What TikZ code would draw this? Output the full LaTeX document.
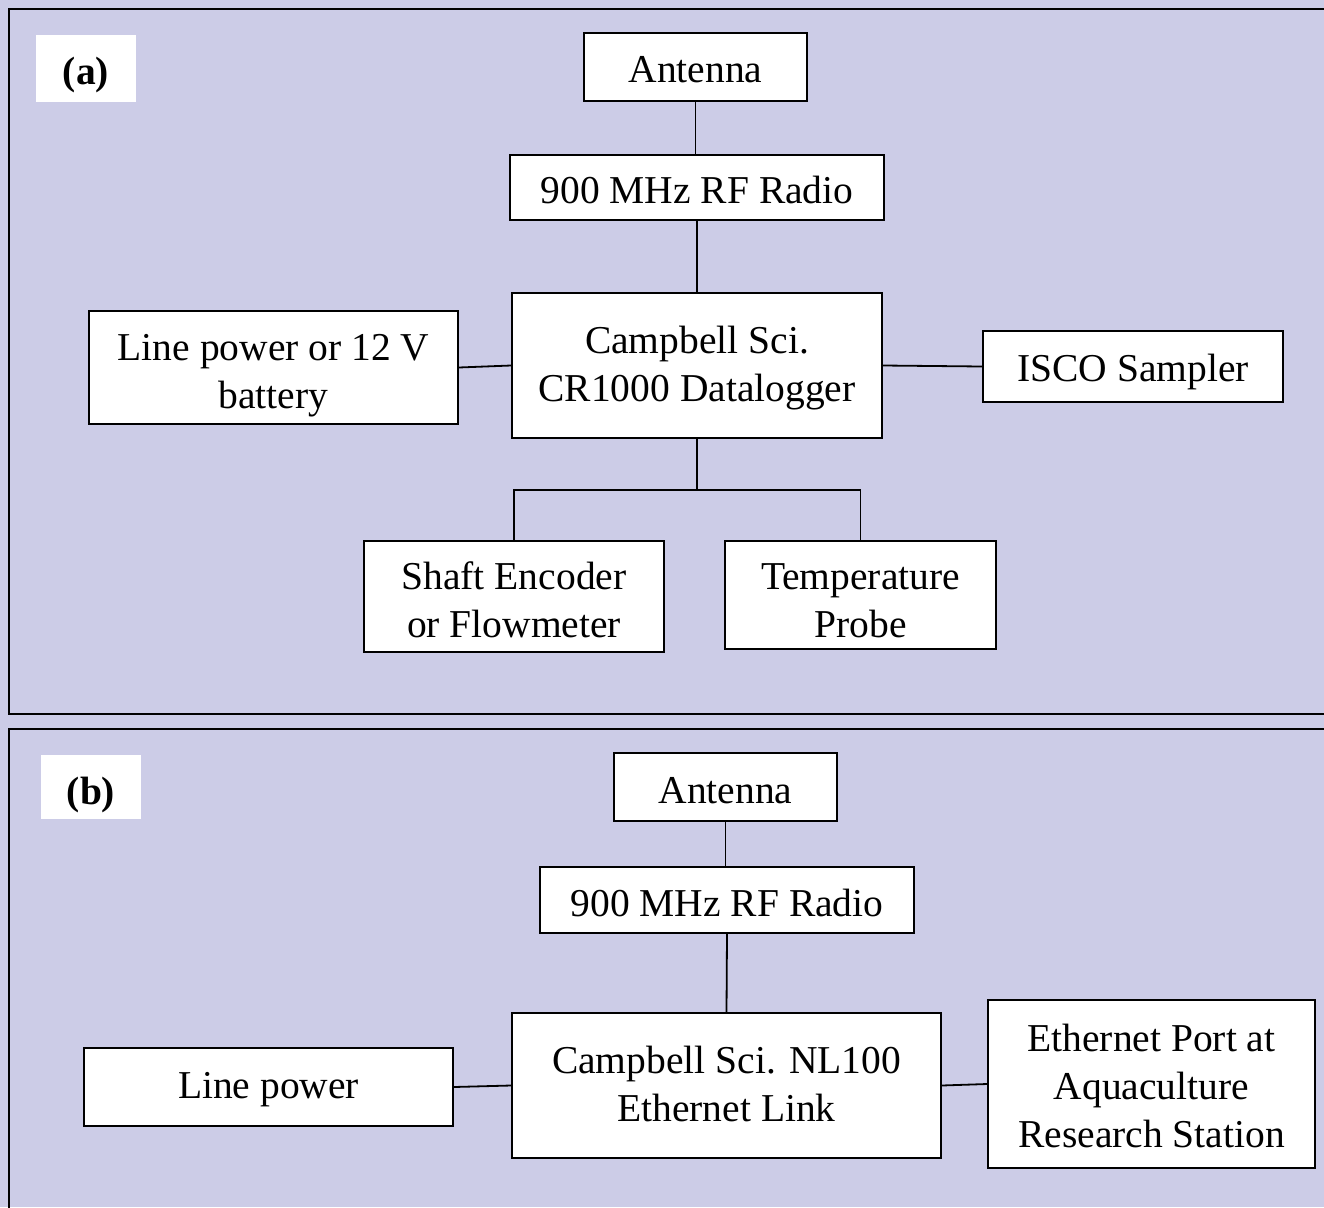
\documentclass[tikz,border=0pt]{standalone}
\usepackage{fontspec}
\setmainfont{Liberation Serif}
\definecolor{panelbg}{RGB}{204,204,231}
\newcommand\bxt[2]{\raisebox{-#1pt}[\height][\depth]{\begin{tabular}{@{}c@{}}#2\end{tabular}}}
\begin{document}
\begin{tikzpicture}[x=1pt,y=-1pt,
  every node/.style={font=\fontsize{39.5}{48}\selectfont},
  box/.style={draw=black,line width=1.8pt,fill=white,inner sep=0pt},
  lbl/.style={fill=white,inner sep=0pt,font=\fontsize{39.5}{48}\selectfont\bfseries},
  link/.style={draw=black,line width=1.8pt},
  panel/.style={draw=black,line width=2.2pt}]
\useasboundingbox (0,0) rectangle (1324,1207);
\fill[panelbg] (0,0) rectangle (1324,1207);
\draw[panel] (9,9) rectangle (1340,714);
\draw[panel] (9,729) rectangle (1340,1230);
% panel (a)
\node[lbl,minimum width=100pt,minimum height=67pt] (la) at (86,68.5) {\bxt{6.9}{(a)}};
\node[box,minimum width=223pt,minimum height=68pt] (ant1) at (695.5,67) {\bxt{6.4}{Antenna}};
\node[box,minimum width=374pt,minimum height=65pt] (rad1) at (697,187.5) {\bxt{5.9}{900 MHz RF Radio}};
\node[box,minimum width=370pt,minimum height=145pt] (dl) at (697,365.5) {\bxt{2}{Campbell Sci.\\CR1000 Datalogger}};
\node[box,minimum width=369pt,minimum height=113pt] (pw1) at (273.5,367.5) {\bxt{6.9}{Line power or 12 V\\battery}};
\node[box,minimum width=300pt,minimum height=71pt] (isco) at (1133,366.5) {\bxt{4.9}{ISCO Sampler}};
\node[box,minimum width=300pt,minimum height=111pt] (shaft) at (514,596.5) {\bxt{6.9}{Shaft Encoder\\or Flowmeter}};
\node[box,minimum width=271pt,minimum height=108pt] (temp) at (860.5,595) {\bxt{8.4}{Temperature\\Probe}};
\coordinate (j1) at (697,490);
\draw[link] (ant1.south) -- (rad1.north -| ant1.south);
\draw[link] (rad1.south) -- (dl.north);
\draw[link] (pw1.east) -- (dl.west);
\draw[link] (dl.east) -- (isco.west);
\draw[link] (dl.south) -- (j1);
\draw[link] (shaft.north) -- (shaft.north |- j1) -- (temp.north |- j1) -- (temp.north);
% panel (b)
\node[lbl,minimum width=100pt,minimum height=64pt] (lb) at (91,787) {\bxt{7.4}{(b)}};
\node[box,minimum width=223pt,minimum height=68pt] (ant2) at (725.5,787) {\bxt{6.4}{Antenna}};
\node[box,minimum width=374pt,minimum height=66pt] (rad2) at (727,900) {\bxt{6.4}{900 MHz RF Radio}};
\node[box,minimum width=429pt,minimum height=145pt] (nl) at (726.5,1085.5) {\bxt{1.9}{Campbell Sci. NL100\\Ethernet Link}};
\node[box,minimum width=369pt,minimum height=78pt] (pw2) at (268.5,1087) {\bxt{1.4}{Line power}};
\node[box,minimum width=327pt,minimum height=168pt] (eth) at (1151.5,1084) {\bxt{5.4}{Ethernet Port at\\Aquaculture\\Research Station}};
\draw[link] (ant2.south) -- (rad2.north -| ant2.south);
\draw[link] (rad2.south) -- (nl.north);
\draw[link] (pw2.east) -- (nl.west);
\draw[link] (nl.east) -- (eth.west);
\end{tikzpicture}
\end{document}
